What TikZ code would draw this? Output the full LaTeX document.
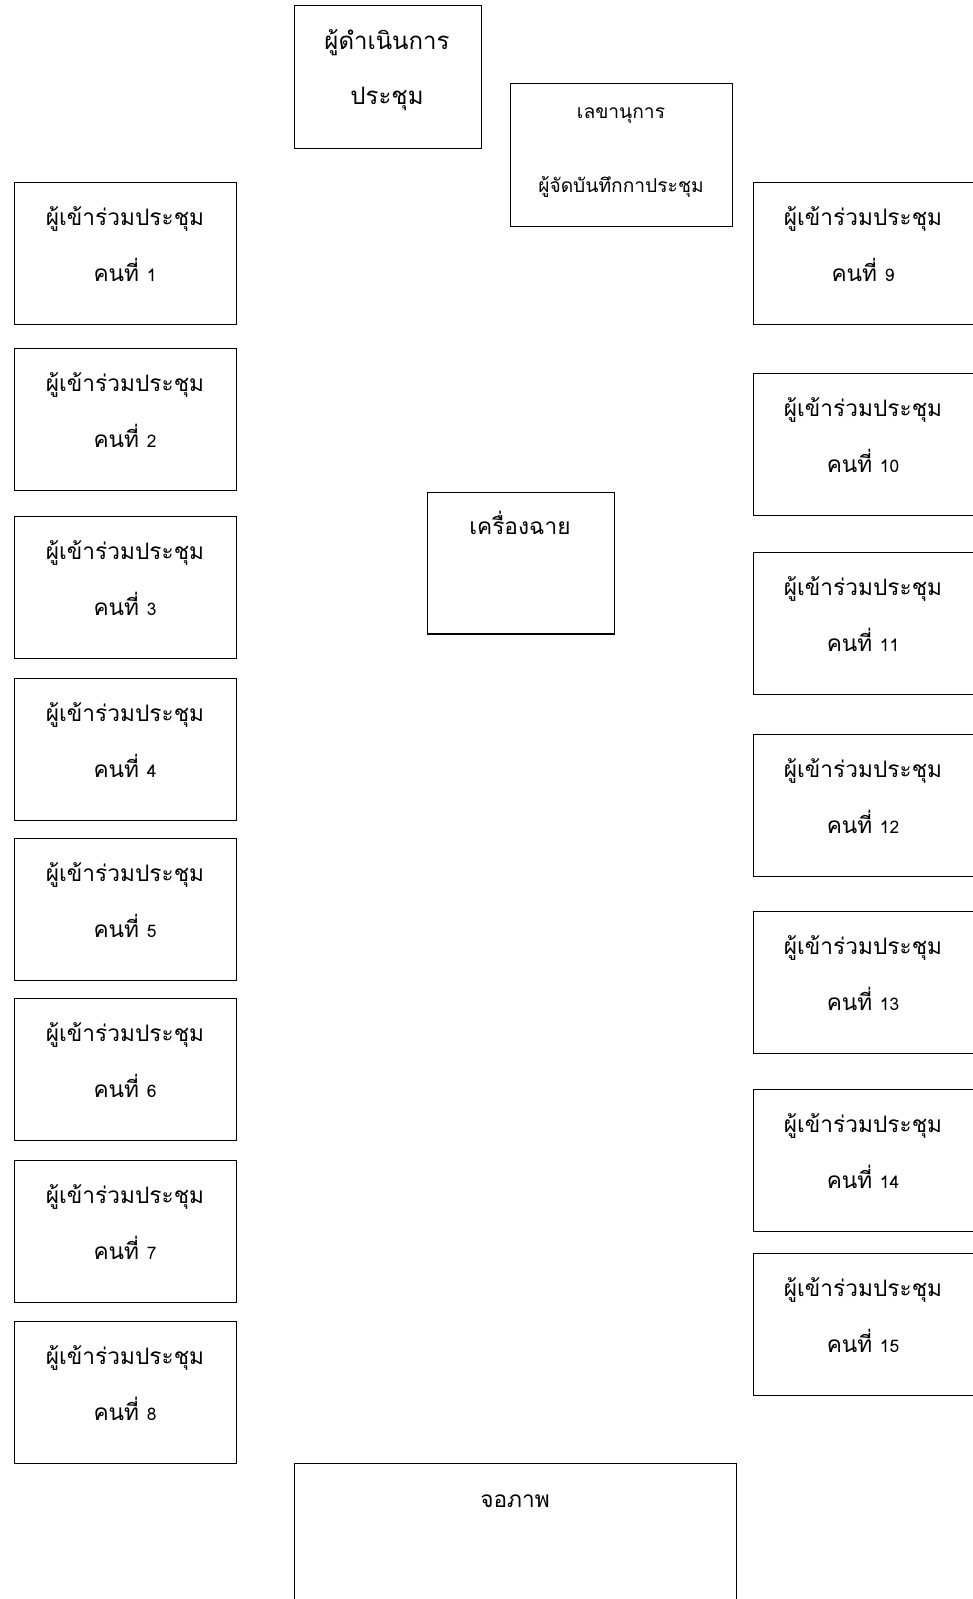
\documentclass[tikz,border=0pt]{standalone}
\usepackage{fontspec}
\newfontfamily\thaifont[Script=Thai]{Loma}
\begin{document}
\begin{tikzpicture}[x=0.75pt,y=-0.75pt,
  box/.style={draw,line width=1pt,anchor=north west,inner sep=0pt},
  pbox/.style={box,minimum width=166.5pt,minimum height=106.5pt},
  lbl/.style={anchor=base,inner sep=0pt,font=\thaifont\fontsize{17}{20}\selectfont},
  biglbl/.style={lbl,font=\thaifont\fontsize{18}{22}\selectfont},
  smalllbl/.style={lbl,font=\thaifont\fontsize{14.4}{17}\selectfont}]
\useasboundingbox (0,0) rectangle (973,1599);
\fill[white] (0,0) rectangle (973,1599);
% chair
\node[box,minimum width=140pt,minimum height=107pt] (chair) at (294,5) {};
\node[biglbl] (chairA) at (387,49) {ผู้ดำเนินการ};
\node[biglbl] (chairB) at (387,104) {ประชุม};
% secretary
\node[box,minimum width=166.5pt,minimum height=107pt] (sec) at (510,83) {};
\node[smalllbl] (secA) at (621,118) {เลขานุการ};
\node[smalllbl] (secB) at (621,192) {ผู้จัดบันทึกกาประชุม};
% projector
\node[box,minimum width=140pt,minimum height=106pt] (proj) at (427,492) {};
\node[lbl] (projA) at (520,534) {เครื่องฉาย};
% screen
\node[box,minimum width=331.5pt,minimum height=130pt] (scr) at (294,1463) {};
\node[lbl] (scrA) at (515,1507) {จอภาพ};
% left participants
\foreach \t/\n in {182/1,348/2,516/3,678/4,838/5,998/6,1160/7,1321/8}{
  \node[pbox] (p\n) at (14,\t) {};
  \node[lbl] (p\n a) at (125,\t+43) {ผู้เข้าร่วมประชุม};
  \node[lbl] (p\n b) at (125,\t+99) {คนที่ {\fontsize{13}{15}\selectfont\n}};
}
% right participants
\foreach \t/\n in {182/9,373/10,552/11,734/12,911/13,1089/14,1253/15}{
  \node[pbox] (p\n) at (753,\t) {};
  \node[lbl] (p\n a) at (863,\t+43) {ผู้เข้าร่วมประชุม};
  \node[lbl] (p\n b) at (863,\t+99) {คนที่ {\fontsize{13}{15}\selectfont\n}};
}
\end{tikzpicture}
\end{document}
